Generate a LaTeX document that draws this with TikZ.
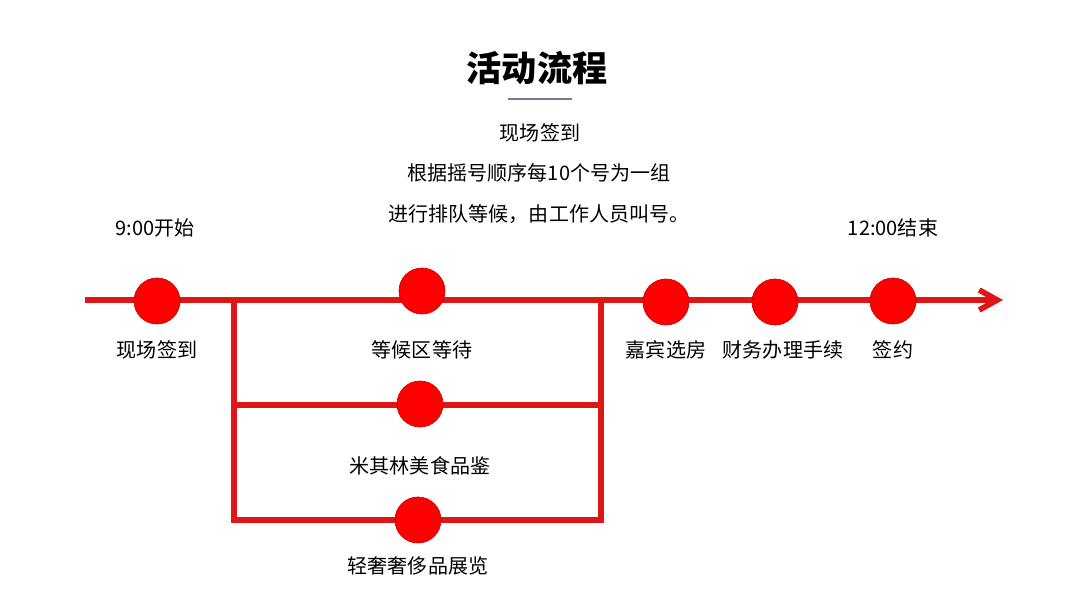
\documentclass[tikz,border=0pt]{standalone}
\usepackage{fontspec}
\usepackage{xcolor}
\usetikzlibrary{arrows.meta, positioning}
\newfontfamily\cjk{Noto Sans CJK SC}
\definecolor{flowred}{RGB}{222, 22, 22}
\definecolor{dotred}{RGB}{255, 0, 0}
\definecolor{rulegray}{RGB}{110, 125, 145}

\begin{document}
\begin{tikzpicture}[
          x=0.02cm, y=-0.02cm,
          stepdot/.style={circle, draw=red!80!black, fill=dotred, line width=0.4pt, minimum size=0.92cm, inner sep=0pt},
          steplabel/.style={font=\cjk\fontsize{11.4}{14}\selectfont, text=black, inner sep=1pt},
          flowline/.style={line width=2.9pt, draw=flowred},
          flowarrow/.style={flowline, -{Straight Barb[length=0.36cm, width=0.4cm, line width=3.2pt]}}
        ]
          \useasboundingbox (0,0) rectangle (1080,608);

          % Title
          \node[font=\cjk\fontsize{20}{24}\selectfont\bfseries] (title) at (537,68) {活动流程};
          \coordinate (ruleL) at (508,99);
          \coordinate (ruleR) at (572,99);
          \draw[rulegray, line width=1.2pt] (ruleL) -- (ruleR);

          % Description
          \node[steplabel] (d1) at (540,133) {现场签到};
          \node[steplabel] (d2) at (539,173) {根据摇号顺序每10个号为一组};
          \node[steplabel] (d3) at (539,214) {进行排队等候，由工作人员叫号。};

          % Time marks
          \node[steplabel] (tstart) at (155,228) {9:00开始};
          \node[steplabel] (tend) at (893,228) {12:00结束};

          % Junctions
          \coordinate (start) at (85,300);
          \coordinate (finish) at (1003,300);
          \coordinate (jl) at (234,300);
          \coordinate (jr) at (601,300);
          \coordinate (ml) at (234,405);
          \coordinate (mr) at (601,405);
          \coordinate (bl) at (234,520);
          \coordinate (br) at (601,520);

          % Connections
          \draw[flowarrow] (start) -- (finish);
          \draw[flowline, line join=miter] (jl) -- (bl) -- (br) -- (jr);
          \draw[flowline] (ml) -- (mr);

          % Steps
          \node[stepdot] (s1) at (157,301) {};
          \node[stepdot] (s2) at (422,291) {};
          \node[stepdot] (s3) at (666,302) {};
          \node[stepdot] (s4) at (775,302) {};
          \node[stepdot] (s5) at (893,301) {};
          \node[stepdot] (b1) at (420,404) {};
          \node[stepdot] (b2) at (418,520) {};

          % Step labels
          \node[steplabel] (l1) at (157,350) {现场签到};
          \node[steplabel] (l2) at (422,350) {等候区等待};
          \node[steplabel] (l3) at (666,350) {嘉宾选房};
          \node[steplabel] (l4) at (783,350) {财务办理手续};
          \node[steplabel] (l5) at (893,350) {签约};
          \node[steplabel] (l6) at (420,466) {米其林美食品鉴};
          \node[steplabel] (l7) at (418,566) {轻奢奢侈品展览};
        \end{tikzpicture}
\end{document}
